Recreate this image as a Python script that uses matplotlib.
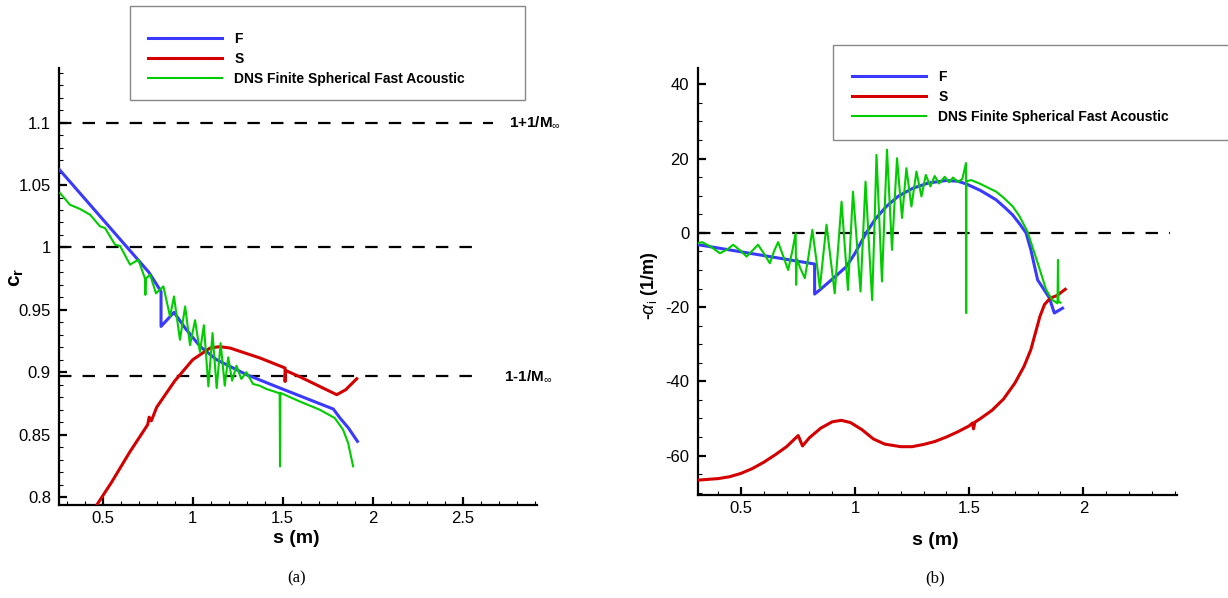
import matplotlib
matplotlib.use("Agg")
import matplotlib.pyplot as plt
from matplotlib.ticker import MultipleLocator
from matplotlib.lines import Line2D
from matplotlib.patches import Rectangle

plt.rcParams['font.family'] = ['Liberation Sans', 'DejaVu Sans']
plt.rcParams['mathtext.fontset'] = 'custom'
plt.rcParams['mathtext.rm'] = 'Liberation Sans'
plt.rcParams['mathtext.bf'] = 'Liberation Sans:bold'
plt.rcParams['mathtext.it'] = 'Liberation Sans:italic'
plt.rcParams['axes.unicode_minus'] = False

# ---------------- panel (a) : phase speed ----------------
F_s_a = [0.26, 0.757, 0.824, 0.824, 0.896, 0.96, 1.041, 1.133, 1.30, 1.485, 1.781, 1.818, 1.865, 1.915]
F_c_a = [1.0623, 0.980, 0.9647, 0.9367, 0.948, 0.935, 0.9207, 0.910, 0.898, 0.8873, 0.8705, 0.8633, 0.8553, 0.8446]

S_s_a = [0.467, 0.55, 0.65, 0.75, 0.758, 0.77, 0.8, 0.9, 1.0, 1.096, 1.15, 1.207, 1.374, 1.513, 1.513, 1.516, 1.6, 1.7, 1.8, 1.85, 1.911]
S_c_a = [0.7936, 0.812, 0.836, 0.858, 0.864, 0.861, 0.872, 0.893, 0.910, 0.9194, 0.9205, 0.9194, 0.9114, 0.9034, 0.8926, 0.9014, 0.896, 0.889, 0.882, 0.886, 0.8948]

G_s_a = [0.263, 0.318, 0.373, 0.43, 0.485, 0.513, 0.569, 0.596, 0.652, 0.698, 0.735, 0.737, 0.74,
         0.763, 0.796, 0.837, 0.874, 0.896, 0.929, 0.958, 0.985, 1.013, 1.04, 1.062, 1.087, 1.11,
         1.133, 1.155, 1.178, 1.197, 1.219, 1.243, 1.27, 1.298, 1.335, 1.372, 1.409, 1.483, 1.485,
         1.487, 1.594, 1.705, 1.789, 1.835, 1.863, 1.891]
G_c_a = [1.0436, 1.0342, 1.0309, 1.0262, 1.0169, 1.0155, 1.0021, 1.0013, 0.9862, 0.9902, 0.975, 0.962, 0.975,
         0.9782, 0.9632, 0.9688, 0.9447, 0.9607, 0.926, 0.9527, 0.9217, 0.9417, 0.9163, 0.9377, 0.8886, 0.9314,
         0.8873, 0.9233, 0.8892, 0.9119, 0.8932, 0.9052, 0.8946, 0.9, 0.8906, 0.8892, 0.8866, 0.8831, 0.8245,
         0.8835, 0.8766, 0.870, 0.8633, 0.854, 0.8433, 0.8246]

ref_lines_a = [1.1, 1.0, 0.897]
ref_ends_a = [2.668, 2.613, 2.55]
ref_labels_a = [r'1+1/M$_{\infty}$', None, r'1-1/M$_{\infty}$']
ref_label_x_a = [2.755, None, 2.727]

# ---------------- panel (b) : growth rate ----------------
F_s_b = [0.313, 0.823, 0.823, 0.845, 0.90, 0.962, 1.0, 1.049, 1.09, 1.137, 1.19, 1.253, 1.32, 1.399, 1.45,
         1.486, 1.55, 1.618, 1.66, 1.69, 1.72, 1.749, 1.77, 1.79, 1.80, 1.83, 1.851, 1.873, 1.909]
F_v_b = [-3.2, -8.4, -16.5, -15.4, -12.5, -9.1, -5.5, 0.0, 3.8, 7.1, 9.9, 12.0, 13.4, 14.1, 13.9,
         13.2, 11.4, 8.9, 6.6, 4.85, 2.5, 0.0, -4.5, -10.0, -12.7, -15.5, -17.5, -21.6, -20.3]

S_s_b = [0.313, 0.40, 0.45, 0.50, 0.55, 0.60, 0.65, 0.70, 0.751, 0.770, 0.80, 0.85, 0.90, 0.94, 0.98,
         1.03, 1.08, 1.13, 1.20, 1.25, 1.30, 1.35, 1.40, 1.45, 1.50, 1.515, 1.519, 1.525, 1.55, 1.60,
         1.65, 1.70, 1.74, 1.77, 1.79, 1.81, 1.83, 1.855, 1.884, 1.921]
S_v_b = [-66.6, -66.2, -65.7, -64.8, -63.5, -61.8, -59.8, -57.6, -54.6, -57.4, -55.2, -52.6, -50.9, -50.5, -51.1,
         -53.0, -55.5, -56.9, -57.6, -57.6, -57.0, -56.2, -55.0, -53.6, -52.0, -51.2, -52.8, -51.0, -50.0, -47.8,
         -44.8, -40.5, -36.0, -31.5, -27.0, -22.5, -19.3, -17.6, -16.9, -15.2]

G_s_b = [0.313, 0.33, 0.37, 0.408, 0.44, 0.466, 0.50, 0.525, 0.55, 0.575, 0.60, 0.627, 0.645, 0.663, 0.685,
         0.707, 0.725, 0.740, 0.742, 0.745, 0.760, 0.780, 0.797, 0.813, 0.830, 0.846, 0.860, 0.875, 0.893,
         0.911, 0.926, 0.941, 0.955, 0.969, 0.980, 0.991, 1.008, 1.024, 1.035, 1.046, 1.060, 1.075, 1.085,
         1.094, 1.106, 1.118, 1.129, 1.140, 1.151, 1.162, 1.173, 1.184, 1.195, 1.206, 1.225, 1.247, 1.269,
         1.291, 1.310, 1.330, 1.349, 1.368, 1.393, 1.412, 1.429, 1.451, 1.470,
         1.486, 1.487, 1.488, 1.509, 1.545, 1.618, 1.65, 1.691, 1.72, 1.755, 1.80, 1.82, 1.837, 1.863,
         1.887, 1.889, 1.891, 1.90]
G_v_b = [-2.8, -2.5, -3.8, -5.5, -4.5, -3.2, -4.9, -6.4, -4.8, -3.2, -5.5, -8.2, -5.0, -2.5, -6.2,
         -10.0, -5.0, -0.1, -14.0, -7.0, -9.5, -12.2, -6.0, 0.8, -7.0, -14.9, -6.5, 2.2, -7.0,
         -16.3, -4.0, 8.4, -3.5, -15.4, -2.0, 11.1, -2.5, -15.8, -1.0, 13.8, -2.0, -18.1, 1.5,
         21.0, 4.0, -13.1, 5.0, 22.4, 9.0, -4.6, 8.0, 20.1, 12.0, 4.0, 17.4, 7.1, 16.5,
         9.8, 15.6, 12.5, 15.3, 13.3, 15.1, 13.6, 14.9, 13.7, 14.5,
         18.8, -21.6, 13.9, 14.2, 13.3, 11.1, 9.5, 7.1, 4.5, 0.4, -8.1, -12.0, -15.3, -18.0,
         -19.0, -7.3, -18.5, -18.8]

legend_labels = ['F', 'S', 'DNS Finite Spherical Fast Acoustic']
c_blue = '#3a3aff'
c_red = '#d40000'
c_green = '#00cc00'

fig = plt.figure(figsize=(12.28, 5.98), dpi=100)
axa = fig.add_axes([0.0483, 0.1555, 0.3888, 0.7308])
axb = fig.add_axes([0.5680, 0.1717, 0.3904, 0.7146])


def style(ax):
    for sp in ['top', 'right']:
        ax.spines[sp].set_visible(False)
    for sp in ['left', 'bottom']:
        ax.spines[sp].set_linewidth(1.6)
    ax.tick_params(which='major', direction='in', length=6, width=1.6, labelsize=12, pad=4)
    ax.tick_params(which='minor', direction='in', length=3, width=0.8)
    ax.tick_params(axis='y', which='major', pad=6)


# panel a
dash = (5.6, 5.0)
for yv, xe, lab, lx in zip(ref_lines_a, ref_ends_a, ref_labels_a, ref_label_x_a):
    axa.plot([0.26, xe], [yv, yv], color='black', lw=1.6, dashes=dash, zorder=1)
    if lab:
        axa.text(lx, yv, lab, fontsize=11, fontweight='bold', va='center', ha='left')
axa.plot(F_s_a, F_c_a, color=c_blue, lw=2.2, zorder=3)
axa.plot(S_s_a, S_c_a, color=c_red, lw=2.2, zorder=3)
axa.plot(G_s_a, G_c_a, color=c_green, lw=1.5, zorder=4)
axa.set_xlim(0.259, 2.911)
axa.set_ylim(0.7936, 1.1438)
axa.set_xticks([0.5, 1.0, 1.5, 2.0, 2.5])
axa.set_xticklabels(['0.5', '1', '1.5', '2', '2.5'])
axa.xaxis.set_minor_locator(MultipleLocator(0.1))
axa.set_yticks([0.8, 0.85, 0.9, 0.95, 1.0, 1.05, 1.1])
axa.set_yticklabels(['0.8', '0.85', '0.9', '0.95', '1', '1.05', '1.1'])
axa.yaxis.set_minor_locator(MultipleLocator(0.01))
style(axa)
axa.set_xlabel('s (m)', fontsize=14, fontweight='bold')
axa.xaxis.set_label_coords(0.496, -0.058)
axa.set_ylabel(r'$\mathbf{c}_{\mathbf{r}}$', fontsize=15)
axa.yaxis.set_label_coords(-0.07, 0.52)

# panel b
axb.plot([0.31, 2.38], [0, 0], color='black', lw=1.6, dashes=dash, zorder=1)
axb.plot(F_s_b, F_v_b, color=c_blue, lw=2.2, zorder=3)
axb.plot(S_s_b, S_v_b, color=c_red, lw=2.2, zorder=3)
axb.plot(G_s_b, G_v_b, color=c_green, lw=1.5, zorder=4)
axb.set_xlim(0.31, 2.41)
axb.set_ylim(-70.7, 44.4)
axb.set_xticks([0.5, 1.0, 1.5, 2.0])
axb.set_xticklabels(['0.5', '1', '1.5', '2'])
axb.xaxis.set_minor_locator(MultipleLocator(0.1))
axb.set_yticks([-60, -40, -20, 0, 20, 40])
axb.yaxis.set_minor_locator(MultipleLocator(5))
style(axb)
axb.set_xlabel('s (m)', fontsize=14, fontweight='bold')
axb.xaxis.set_label_coords(0.495, -0.086)
axb.set_ylabel(r'-$\alpha_{\mathrm{i}}$ (1/m)', fontsize=13, fontweight='bold')
axb.yaxis.set_label_coords(-0.078, 0.49)

# legends
handles = [Line2D([], [], color=c_blue, lw=2.2), Line2D([], [], color=c_red, lw=2.2),
           Line2D([], [], color=c_green, lw=1.5)]
for (bx, by, bw, bh), anchor in [((130, 6, 395, 94), (148, 32)), ((833, 45, 400, 95), (852, 70))]:
    fig.add_artist(Rectangle((bx / 1228, 1 - (by + bh) / 598), bw / 1228, bh / 598,
                             transform=fig.transFigure, fill=False, edgecolor='#888888', lw=1.0))
    fig.legend(handles, legend_labels, loc='upper left',
               bbox_to_anchor=(anchor[0] / 1228, 1 - anchor[1] / 598),
               frameon=False, prop={'weight': 'bold', 'size': 10},
               handlelength=5.3, handletextpad=0.9, labelspacing=0.42, borderpad=0, borderaxespad=0)

fig.text(297 / 1228, 1 - 578 / 598, '(a)', fontsize=12, family=['Liberation Serif'], ha='center', va='center')
fig.text(935 / 1228, 1 - 578 / 598, '(b)', fontsize=12, family=['Liberation Serif'], ha='center', va='center')

fig.savefig('out.png', dpi=100)
